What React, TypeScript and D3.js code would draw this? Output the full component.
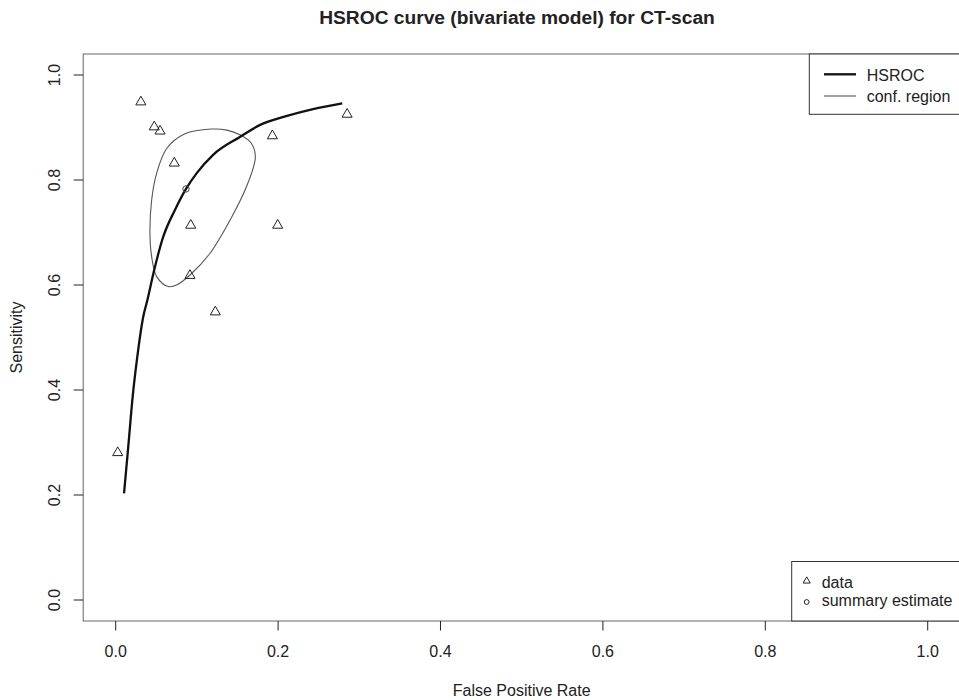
import React from "react";
import * as d3 from "d3";

// study points (false positive rate, sensitivity)
const studyFpr = [0.0025, 0.031, 0.0475, 0.0546, 0.0722, 0.0924, 0.0915, 0.1227, 0.193, 0.1995, 0.285];
const studySens = [0.2825, 0.9505, 0.903, 0.895, 0.834, 0.7156, 0.62, 0.5505, 0.886, 0.7156, 0.927];

// summary estimate
const summaryFpr = 0.0866;
const summarySens = 0.783;

// HSROC curve
const curveFpr = [0.0103, 0.0155, 0.0209, 0.0266, 0.034, 0.039, 0.0475, 0.0586, 0.073, 0.0866, 0.0998, 0.12, 0.153, 0.178, 0.211, 0.243, 0.279];
const curveSens = [0.203, 0.292, 0.387, 0.463, 0.54, 0.571, 0.629, 0.692, 0.743, 0.783, 0.813, 0.848, 0.882, 0.905, 0.922, 0.935, 0.946];

// confidence region outline
const regionFpr = [0.118, 0.137, 0.153, 0.167, 0.172, 0.161, 0.141, 0.116, 0.0915, 0.0751, 0.0648, 0.0505, 0.0443, 0.0422, 0.0443, 0.0505, 0.0628, 0.0853];
const regionSens = [0.897, 0.895, 0.886, 0.87, 0.844, 0.787, 0.724, 0.66, 0.619, 0.6, 0.597, 0.616, 0.654, 0.698, 0.762, 0.813, 0.86, 0.888];

const ticks = [0, 0.2, 0.4, 0.6, 0.8, 1.0];

const font = "'Liberation Sans', Arial, sans-serif";
const ink = "#222";

export default function App() {
  const x = d3.scaleLinear().domain([-0.04, 1.04]).range([83.2, 960.2]);
  const y = d3.scaleLinear().domain([-0.04, 1.04]).range([621, 54]);

  const curvePts: [number, number][] = curveFpr.map((f, i) => [x(f), y(curveSens[i])]);
  const regionPts: [number, number][] = regionFpr.map((f, i) => [x(f), y(regionSens[i])]);

  const line = d3.line().curve(d3.curveMonotoneX);
  const closed = d3.line().curve(d3.curveCatmullRomClosed);
  const tri = d3.symbol().type(d3.symbolTriangle).size(44)();
  const smallTri = d3.symbol().type(d3.symbolTriangle).size(22)();

  const [x0, x1] = x.range();
  const [y0, y1] = y.range();

  return (
    <div style={{ position: "absolute", left: 0, top: 0 }}>
      <svg width={959} height={700} style={{ display: "block", background: "#fff" }} fontFamily={font}>
        <text x={517} y={24} textAnchor="middle" fontWeight="bold" fontSize={19.2} fill={ink}>
          HSROC curve (bivariate model) for CT-scan
        </text>

        {/* plot box */}
        <rect x={x0} y={y1} width={x1 - x0} height={y0 - y1} fill="none" stroke="#666" strokeWidth={1} />

        {/* x axis */}
        {ticks.map((t) => (
          <g key={"x" + t}>
            <line x1={x(t)} x2={x(t)} y1={y0} y2={y0 + 9.5} stroke={ink} />
            <text x={x(t)} y={656.5} textAnchor="middle" fontSize={16} fill={ink}>
              {t.toFixed(1)}
            </text>
          </g>
        ))}
        <text x={(x0 + x1) / 2} y={696} textAnchor="middle" fontSize={16} fill={ink}>
          False Positive Rate
        </text>

        {/* y axis */}
        {ticks.map((t) => (
          <g key={"y" + t}>
            <line x1={x0 - 9.5} x2={x0} y1={y(t)} y2={y(t)} stroke={ink} />
            <text
              transform={`translate(60,${y(t)}) rotate(-90)`}
              textAnchor="middle"
              fontSize={16}
              fill={ink}
            >
              {t.toFixed(1)}
            </text>
          </g>
        ))}
        <text
          transform={`translate(21.5,${(y0 + y1) / 2}) rotate(-90)`}
          textAnchor="middle"
          fontSize={16}
          fill={ink}
        >
          Sensitivity
        </text>

        {/* confidence region */}
        <path d={closed(regionPts) || ""} fill="none" stroke="#555" strokeWidth={1.1} />

        {/* HSROC curve */}
        <path d={line(curvePts) || ""} fill="none" stroke="#111" strokeWidth={2.3} />

        {/* study points */}
        {studyFpr.map((f, i) => (
          <path
            key={"p" + i}
            d={tri || ""}
            transform={`translate(${x(f)},${y(studySens[i]) + 1})`}
            fill="none"
            stroke={ink}
            strokeWidth={1}
          />
        ))}

        {/* summary estimate */}
        <circle cx={x(summaryFpr)} cy={y(summarySens)} r={3.2} fill="none" stroke="#444" strokeWidth={1} />

        {/* top-right legend */}
        <g>
          <rect x={809.3} y={y1} width={x1 - 809.3} height={60.3} fill="#fff" stroke="#333" strokeWidth={1} />
          <line x1={824} x2={856} y1={74.3} y2={74.3} stroke="#111" strokeWidth={2.3} />
          <line x1={824} x2={856} y1={96} y2={96} stroke="#555" strokeWidth={1.1} />
          <text x={866.7} y={80.5} fontSize={16} fill={ink}>HSROC</text>
          <text x={866.7} y={101.8} fontSize={16} fill={ink}>conf. region</text>
        </g>

        {/* bottom-right legend */}
        <g>
          <rect x={791.7} y={y0 - 59.5} width={x1 - 791.7} height={59.5} fill="#fff" stroke="#333" strokeWidth={1} />
          <path d={smallTri || ""} transform={`translate(806.7,${y0 - 40})`} fill="none" stroke={ink} strokeWidth={1} />
          <circle cx={806.7} cy={y0 - 19} r={2.4} fill="none" stroke={ink} strokeWidth={1} />
          <text x={821.7} y={588.3} fontSize={16} fill={ink}>data</text>
          <text x={821.7} y={606.3} fontSize={16} fill={ink}>summary estimate</text>
        </g>
      </svg>
    </div>
  );
}
